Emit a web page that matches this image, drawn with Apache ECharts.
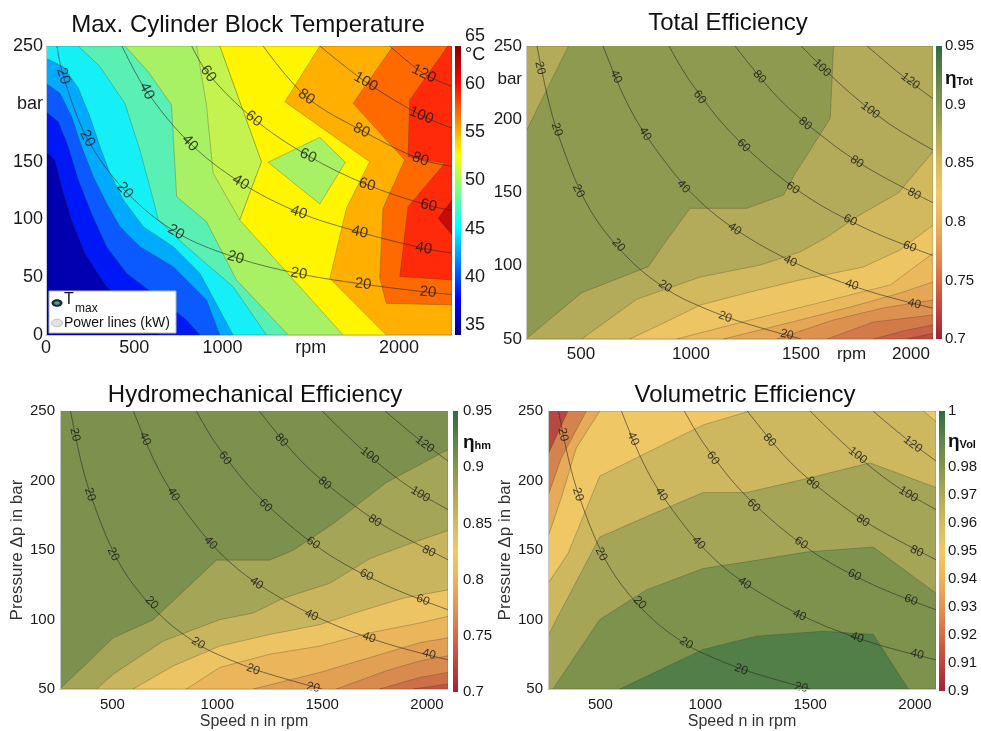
<!DOCTYPE html>
<html><head><meta charset="utf-8">
<script src="https://cdn.jsdelivr.net/npm/echarts@6/dist/echarts.min.js"></script>
<style>html,body{margin:0;padding:0;background:#fff}#c{width:981px;height:731px}</style>
</head><body><div id="c"></div>
<script>
const FONT = "'Liberation Sans', Arial, Helvetica, sans-serif";

// ---------- Panel 1: Max. cylinder block temperature (°C) — rpm / bar ----------
const tempBase   = [[0,0],[2300,0],[2300,250],[0,250]];
const tempC1     = [[0,158.6],[51,151.4],[89,128.3],[145,99.5],[221,70.6],[343,41.8],[513,15.9],[645,0],[2300,0],[2300,250],[0,250]];
const tempC2     = [[0,193.2],[70,184.5],[126,162.9],[183,134.1],[258,105.2],[343,76.4],[457,53.3],[608,36],[796,13],[872,0],[2300,0],[2300,250],[0,250]];
const tempC3     = [[0,217.7],[79,209.1],[145,188.9],[202,162.9],[268,137],[343,113.9],[419,93.7],[532,76.4],[721,59.1],[909,30.3],[985,0],[2300,0],[2300,250],[0,250]];
const tempC4     = [[0,239.3],[98,232.1],[183,213.4],[249,188.9],[306,162.9],[362,139.9],[438,116.8],[551,93.7],[721,76.4],[872,53.3],[1060,0],[2300,0],[2300,250],[0,250]];
const tempC5     = [[183,250],[306,232.1],[447,200.4],[532,160],[608,116.8],[636,99.5],[796,76.4],[1060,41.8],[1249,0],[2300,0],[2300,250]];
const tempC6     = [[447,250],[579,227.8],[711,199],[740,119.7],[909,98],[1079,47.6],[1372,0],[2300,0],[2300,250]];
const tempC7     = [[853,250],[909,199],[947,139.9],[1098,99.5],[1221,149.9],[985,250]];
const tempC8     = [[985,250],[1221,149.9],[1098,99.5],[1683,0],[2300,0],[2300,250]];
const tempIsland = [[1258,149.4],[1551,171],[1696,149.4],[1551,113.3]];
const tempH1     = [[1551,250],[1353,201.8],[1834,149.9],[1702,109.6],[1608,49],[1928,0],[2300,0],[2300,250]];
const tempH2     = [[1966,250],[1740,200.4],[2032,151.4],[1909,109.6],[1891,49],[1928,27.4],[2300,26],[2300,250]];
const tempH3     = [[2277,250],[2060,203.3],[2051,154.3],[2259,148.5],[2051,111],[2004,50.5],[2300,47.6],[2300,250]];
const tempH4     = [[2300,116.8],[2221,100.9],[2300,86.5]];
const tempRegions = [tempBase,tempC1,tempC2,tempC3,tempC4,tempC5,tempC6,tempC7,tempC8,tempIsland,tempH1,tempH2,tempH3,tempH4];

const tempP20  = [[62,250],[98,224],[234,170],[447,125],[736,89],[1075,67],[1432,53],[1796,44],[2164,37],[2300,35]];
const tempP40  = [[430,250],[570,211],[815,166],[1102,132],[1432,106],[1777,89],[2140,75],[2300,71]];
const tempP60  = [[825,250],[919,226],[1177,187],[1485,155],[1819,130],[2168,112],[2300,108]];
const tempP80  = [[1230,250],[1475,206],[1787,177],[2121,152],[2300,146]];
const tempP100 = [[1551,250],[1811,219],[2126,190],[2300,179]];
const tempP120 = [[1947,250],[2141,226],[2300,215]];
const tempPowerLabels = [[98,224,20],[234,170,20],[447,125,20],[736,89,20],[1075,67,20],[1432,53,20],[1796,44,20],[2164,37,20],
  [570,211,40],[815,166,40],[1102,132,40],[1432,106,40],[1777,89,40],[2140,75,40],
  [919,226,60],[1177,187,60],[1485,155,60],[1819,130,60],[2168,112,60],
  [1475,206,80],[1787,177,80],[2121,152,80],[1811,219,100],[2126,190,100],[2141,226,120]];

// ---------- Panel 2: total efficiency ----------
const totBase = [[250,50],[2100,50],[2100,250],[250,250]];
const totTL = [[250,250],[443,250],[374,229],[314,211],[250,191.5]];
const totB = [[250,50],[503,81.6],[806,99.4],[890,117.6],[996,139.2],[1254,139.2],[1421,148.3],[1474,163.1],[1542,179],[1633,200.6],[1648,250],[2100,250],[2100,50]];
const totC = [[503,50],[753,77.1],[1042,92.3],[1315,100.5],[1496,109.4],[1619,119.6],[1754,133.5],[1944,149.9],[2100,177.9],[2100,50]];
const totD = [[723,50],[935,65.2],[1042,73.2],[1269,82.1],[1496,90.3],[1783,99.1],[1951,110.8],[2100,127.8],[2100,50]];
const totD2 = [[935,50],[1269,63],[1603,75.5],[1906,86.9],[2100,108.5],[2100,50]];
const totE = [[1148,50],[1496,63],[1724,71.8],[1951,81.4],[2100,88.9],[2100,50]];
const totF = [[1390,50],[1647,63],[1874,71.2],[2100,76.6],[2100,50]];
const totG = [[1619,50],[1829,61.6],[2100,66.4],[2100,50]];
const totH = [[1829,50],[1982,56.1],[2100,59.6],[2100,50]];
const totI = [[1982,50],[2100,53.9],[2100,50]];
const totRegions = [totBase,totTL,totB,totC,totD,totD2,totE,totF,totG,totH,totI];

// ---------- Panel 3: hydromechanical efficiency ----------
const hmBase = [[250,50],[2100,50],[2100,250],[250,250]];
const hmB = [[250,50],[504,86.8],[695,99.9],[996,142.7],[1250,142.7],[1362,149.8],[1552,168.8],[1806,198.5],[2100,222.2],[2100,50]];
const hmC = [[425,50],[504,60.7],[742,84.5],[1012,99.9],[1171,104.6],[1314,115.3],[1536,126],[1727,143.8],[1917,154.5],[2100,164],[2100,50]];
const hmD = [[599,50],[790,66.6],[1012,80.9],[1250,89.2],[1489,96.3],[1679,105.8],[1886,115.3],[2100,121.3],[2100,50]];
const hmDb = [[853,50],[1012,65.5],[1250,75],[1489,80.9],[1727,90.4],[1965,97.5],[2100,102.3],[2100,50]];
const hmE = [[1171,50],[1489,61.9],[1727,72.6],[1965,83.3],[2100,86.8],[2100,50]];
const hmF = [[1568,50],[1806,63.1],[1965,70.2],[2100,73.8],[2100,50]];
const hmG = [[1774,50],[1965,58.3],[2100,61.9],[2100,50]];
const hmH = [[1933,50],[2100,53.6],[2100,50]];
const hmRegions = [hmBase,hmB,hmC,hmD,hmDb,hmE,hmF,hmG,hmH];

// ---------- Panel 4: volumetric efficiency ----------
const volBase = [[250,50],[2100,50],[2100,250],[250,250]];
const volR1 = [[345,250],[250,218.6],[250,50],[2100,50],[2100,250]];
const volR2 = [[433,250],[314,216.3],[250,189],[250,50],[2100,50],[2100,250]];
const volR3 = [[497,250],[385,223.4],[314,187.8],[250,159.3],[250,50],[2100,50],[2100,250]];
const volY1 = [[250,126],[345,147.4],[497,203.2],[719,219.8],[990,240],[1212,250],[2100,250],[2100,50],[250,50]];
const volSpot = [[2040,250],[2100,250],[2100,242.4]];
const volY2 = [[250,88],[290,100],[497,159.3],[767,177.1],[990,191.3],[1196,191.3],[1467,200.8],[1785,212.7],[2100,194.9],[2100,50],[250,50]];
const volY3 = [[274,50],[497,100],[719,121.3],[990,136.7],[1244,142.6],[1483,148.6],[1801,152.1],[2100,118.9],[2100,50]];
const volY4 = [[592,50],[990,78.5],[1244,88],[1562,91.6],[1801,89.2],[1968,50]];
const volRegions = [volBase,volR1,volR2,volR3,volY1,volSpot,volY2,volY3,volY4];

// ---------- Power lines (kW) shared by panels 2-4 ----------
const powP20  = [[300,250],[350,214],[400,188],[500,150],[600,125],[750,100],[900,83],[1000,75],[1200,63],[1500,50]];
const powP40  = [[600,250],[700,214],[800,188],[1000,150],[1200,125],[1500,100],[1800,83],[2100,71]];
const powP60  = [[900,250],[1000,225],[1200,188],[1500,150],[1800,125],[2100,107]];
const powP80  = [[1200,250],[1400,214],[1600,188],[1800,167],[2100,143]];
const powP100 = [[1500,250],[1700,221],[1900,197],[2100,179]];
const powP120 = [[1800,250],[1950,231],[2100,214]];
const totPowerLabels = [[314,235,20],[390,193,20],[488,151,20],[670,114,20],[882,86,20],[1155,65,20],[1436,53,20],
  [659,229,40],[791,190,40],[966,154,40],[1198,125,40],[1451,103,40],[1731,87,40],[2015,74,40],
  [1039,215,60],[1239,182,60],[1463,153,60],[1724,131,60],[1994,113,60],
  [1311,229,80],[1519,197,80],[1754,171,80],[2015,149,80],[1595,235,100],[1815,206,100],[1997,226,120]];
const lowPowerLabels = [[321,233,20],[393,190,20],[504,147,20],[687,112,20],[909,83,20],[1171,64,20],[1457,51,20],
  [655,230,40],[790,190,40],[968,155,40],[1187,126,40],[1449,103,40],[1724,87,40],[2010,75,40],
  [1036,216,60],[1230,182,60],[1457,155,60],[1711,132,60],[1981,114,60],
  [1306,229,80],[1512,198,80],[1751,171,80],[2008,149,80],[1727,218,100],[1968,190,100],[1989,226,120]];

// ---------- tick labels ----------
const tempXTicks = [0,500,1000,1500,2000];
const tempYTicks = [0,50,100,150,200,250];
const totXTicks = [500,1000,1500,1730,2000];
const totYTicks = [50,100,150,200,227,250];
const lowXTicks = [500,1000,1500,2000];
const lowYTicks = [50,100,150,200,250];
const tempBarTicks = [35,40,45,50,55,60,63,65];
const effBarTicks = [0.7,0.75,0.8,0.85,0.9,0.922,0.95];
const volBarTicks = [0.9,0.91,0.92,0.93,0.94,0.95,0.96,0.97,0.98,0.989,1];

// ---------- styles (kept apart from data) ----------
const tempColors = ['#0000B0','#0018F5','#0A5AFF','#00AAFF','#14F0F5','#5AF0B4','#A8F064','#C4F24E','#FFF500','#A8F064','#FFAF00','#FF6A00','#FF2A0A','#C80A0A'];
const totColors = ['#8E9A50','#B3AB59','#B3AB59','#D2B95E','#EDC563','#EBB95D','#E5A656','#DD914F','#D37A4A','#C86246','#B94B41'];
const hmColors = ['#7C914D','#A4A557','#C9B55E','#EDC464','#EAB55B','#E2A054','#D98A4E','#CD7049','#BE5643'];
const volColors = ['#B8473F','#D5834C','#E6AA58','#F0C765','#CDB85F','#F0C765','#A5A557','#7D934D','#527F47'];
const tempAngles = [-72,-62,-48,-30,-16,-9,-7,-6,-64,-47,-31,-19,-12,-10,-54,-37,-23,-15,-12,-35,-25,-20,-30,-22,-26];
const totAngles = [-77,-72,-64,-48,-33,-20,-14,-66,-58,-47,-35,-25,-18,-14,-54,-44,-35,-27,-21,-49,-41,-33,-26,-44,-37,-37];
const lowAngles = [-77,-72,-63,-47,-32,-20,-13,-66,-58,-47,-35,-25,-18,-14,-54,-44,-35,-27,-21,-49,-41,-33,-26,-38,-31,-37];
const jetStops = ['#00008F','#0000FF','#00FFFF','#FFFF00','#FF0000','#800000'];
const jetPos = [0,0.125,0.375,0.625,0.875,1];
const effStops = ['#A0233A','#C2433F','#D66B48','#E39452','#EDB35B','#F3C863','#D6BA5E','#B0A957','#839650','#5D8349','#2F6B43'];
const effPos = [0,0.1,0.2,0.3,0.4,0.5,0.6,0.7,0.8,0.9,1];

function grad(cols, pos) {
  return new echarts.graphic.LinearGradient(0, 1, 0, 0, cols.map((c, i) => ({offset: pos[i], color: c})));
}
function regionSeries(idx, list, colors) {
  return {
    type: 'custom', xAxisIndex: idx, yAxisIndex: idx, clip: true, silent: true, z: 2,
    data: list.map(r => r[0]),
    renderItem: function (params, api) {
      const i = params.dataIndex;
      const pts = list[i].map(p => api.coord(p));
      return {type: 'polygon', shape: {points: pts},
        style: {fill: colors[i], stroke: i === 0 ? null : 'rgba(50,50,35,0.45)', lineWidth: 0.6}};
    }
  };
}
function lineSeries(idx, lines) {
  return lines.map(d => ({type: 'line', xAxisIndex: idx, yAxisIndex: idx, data: d, smooth: 0.35,
    symbol: 'none', silent: true, z: 3, clip: true,
    lineStyle: {color: '#2a2a2a', width: 0.8, opacity: 0.75}}));
}
function labelSeries(idx, labels, angles, fs) {
  return {type: 'scatter', xAxisIndex: idx, yAxisIndex: idx, symbolSize: 0.1, silent: true, z: 4,
    itemStyle: {color: 'transparent'},
    data: labels.map((l, i) => ({value: l, label: {rotate: angles[i]}})),
    label: {show: true, position: 'inside', formatter: p => p.value[2], fontSize: fs, color: '#151515', fontFamily: FONT}};
}
function mainX(gi, min, max, ticks, fmt, fs, margin, name) {
  return {type: 'value', gridIndex: gi, min: min, max: max, z: 5,
    axisLine: {show: true, lineStyle: {color: '#c8c8c8'}}, axisTick: {show: false}, splitLine: {show: false},
    axisLabel: {customValues: ticks, formatter: fmt, fontSize: fs, margin: margin, color: '#1a1a1a', fontFamily: FONT},
    name: name || '', nameLocation: 'middle', nameGap: 25, nameTextStyle: {fontSize: 16, color: '#333', fontFamily: FONT}};
}
function mainY(gi, min, max, ticks, fmt, fs, margin, name, gap) {
  return {type: 'value', gridIndex: gi, min: min, max: max, z: 5,
    axisLine: {show: true, lineStyle: {color: '#c8c8c8'}}, axisTick: {show: false}, splitLine: {show: false},
    axisLabel: {customValues: ticks, formatter: fmt, fontSize: fs, margin: margin, color: '#1a1a1a', fontFamily: FONT},
    name: name || '', nameLocation: 'middle', nameGap: gap || 30, nameRotate: 90, nameTextStyle: {fontSize: 17, color: '#333', fontFamily: FONT}};
}
function barX(gi) { return {type: 'value', gridIndex: gi, min: 0, max: 1, show: false}; }
function barY(gi, min, max, ticks, fmt, fs, margin) {
  return {type: 'value', gridIndex: gi, min: min, max: max, position: 'right',
    axisLine: {show: false}, axisTick: {show: false}, splitLine: {show: false},
    axisLabel: {customValues: ticks, formatter: fmt, fontSize: fs, margin: margin, color: '#1a1a1a', fontFamily: FONT,
      rich: {e: {fontSize: 19, fontWeight: 'bold', color: '#111', fontFamily: FONT},
             s: {fontSize: 11, fontWeight: 'bold', color: '#111', fontFamily: FONT, padding: [7, 0, 0, 0]}}}};
}
const trim = v => String(+(+v).toFixed(3));
const etaFmt = (key, sub) => v => (Math.abs(v - key) < 1e-6 ? '{e|η}{s|' + sub + '}' : trim(v));

const option = {
  animation: false,
  backgroundColor: '#fff',
  grid: [
    {left: 46, top: 46, width: 406, height: 289},
    {left: 526, top: 46, width: 407, height: 293},
    {left: 60, top: 411, width: 388, height: 281},
    {left: 548, top: 411, width: 388, height: 281},
    {left: 455, top: 36, width: 6, height: 289},
    {left: 936, top: 46, width: 6, height: 293},
    {left: 453, top: 411, width: 5, height: 281},
    {left: 939, top: 411, width: 6, height: 280}
  ],
  xAxis: [
    mainX(0, 0, 2300, tempXTicks, v => (v === 1500 ? 'rpm' : v), 18, 4),
    mainX(1, 250, 2100, totXTicks, v => (v === 1730 ? 'rpm' : v), 17, 7),
    mainX(2, 250, 2100, lowXTicks, v => v, 15, 8, 'Speed n in rpm'),
    mainX(3, 250, 2100, lowXTicks, v => v, 15, 8, 'Speed n in rpm'),
    barX(4), barX(5), barX(6), barX(7)
  ],
  yAxis: [
    mainY(0, 0, 250, tempYTicks, v => (v === 200 ? 'bar' : v), 18, 3),
    mainY(1, 50, 250, totYTicks, v => (v === 227 ? 'bar' : v), 17, 4),
    mainY(2, 50, 250, lowYTicks, v => v, 15, 5, 'Pressure Δp in bar', 25),
    mainY(3, 50, 250, lowYTicks, v => v, 15, 5, 'Pressure Δp in bar', 27),
    barY(4, 35, 65, tempBarTicks, v => (v === 63 ? '°C' : v), 18, 4),
    barY(5, 0.7, 0.95, effBarTicks, etaFmt(0.922, 'Tot'), 15, 3),
    barY(6, 0.7, 0.95, effBarTicks, etaFmt(0.922, 'hm'), 15, 5),
    barY(7, 0.9, 1, volBarTicks, etaFmt(0.989, 'Vol'), 15, 3)
  ],
  series: [
    regionSeries(0, tempRegions, tempColors),
    ...lineSeries(0, [tempP20, tempP40, tempP60, tempP80, tempP100, tempP120]),
    labelSeries(0, tempPowerLabels, tempAngles, 15),
    regionSeries(1, totRegions, totColors),
    ...lineSeries(1, [powP20, powP40, powP60, powP80, powP100, powP120]),
    labelSeries(1, totPowerLabels, totAngles, 12),
    regionSeries(2, hmRegions, hmColors),
    ...lineSeries(2, [powP20, powP40, powP60, powP80, powP100, powP120]),
    labelSeries(2, lowPowerLabels, lowAngles, 12),
    regionSeries(3, volRegions, volColors),
    ...lineSeries(3, [powP20, powP40, powP60, powP80, powP100, powP120]),
    labelSeries(3, lowPowerLabels, lowAngles, 12)
  ],
  graphic: [
    {type: 'rect', z: 100, shape: {x: 455, y: 46, width: 6, height: 289}, style: {fill: grad(jetStops, jetPos)}},
    {type: 'rect', z: 100, shape: {x: 936, y: 46, width: 6, height: 293}, style: {fill: grad(effStops, effPos)}},
    {type: 'rect', z: 100, shape: {x: 453, y: 411, width: 5, height: 281}, style: {fill: grad(effStops, effPos)}},
    {type: 'rect', z: 100, shape: {x: 939, y: 411, width: 6, height: 280}, style: {fill: grad(effStops, effPos)}},
    {type: 'text', z: 100, x: 248, y: 25, style: {text: 'Max. Cylinder Block Temperature', fontSize: 24, fontFamily: FONT, fill: '#111', align: 'center', verticalAlign: 'middle'}},
    {type: 'text', z: 100, x: 728, y: 23, style: {text: 'Total Efficiency', fontSize: 24, fontFamily: FONT, fill: '#111', align: 'center', verticalAlign: 'middle'}},
    {type: 'text', z: 100, x: 255, y: 395, style: {text: 'Hydromechanical Efficiency', fontSize: 24, fontFamily: FONT, fill: '#111', align: 'center', verticalAlign: 'middle'}},
    {type: 'text', z: 100, x: 745, y: 395, style: {text: 'Volumetric Efficiency', fontSize: 24, fontFamily: FONT, fill: '#111', align: 'center', verticalAlign: 'middle'}},
    {type: 'rect', z: 100, shape: {x: 49, y: 291, width: 127, height: 42}, style: {fill: '#fff', stroke: '#b5b5b5', lineWidth: 1}},
    {type: 'ellipse', z: 101, shape: {cx: 57, cy: 303, rx: 5.5, ry: 3.8}, style: {fill: '#13284a'}},
    {type: 'ellipse', z: 102, shape: {cx: 57, cy: 303, rx: 2.8, ry: 1.8}, style: {fill: '#5aa05a'}},
    {type: 'text', z: 101, x: 64, y: 300, style: {text: 'T', fontSize: 16, fontFamily: FONT, fill: '#111', verticalAlign: 'middle'}},
    {type: 'text', z: 101, x: 75, y: 309, style: {text: 'max', fontSize: 12, fontFamily: FONT, fill: '#111', verticalAlign: 'middle'}},
    {type: 'ellipse', z: 101, shape: {cx: 57, cy: 323, rx: 5.5, ry: 3.8}, style: {fill: '#e2e2e2', stroke: '#c4c4c4', lineWidth: 1}},
    {type: 'text', z: 101, x: 64, y: 323, style: {text: 'Power lines (kW)', fontSize: 14, fontFamily: FONT, fill: '#111', verticalAlign: 'middle'}}
  ]
};
const chart = echarts.init(document.getElementById('c'), null, {renderer: 'canvas'});
chart.setOption(option);
</script></body></html>
